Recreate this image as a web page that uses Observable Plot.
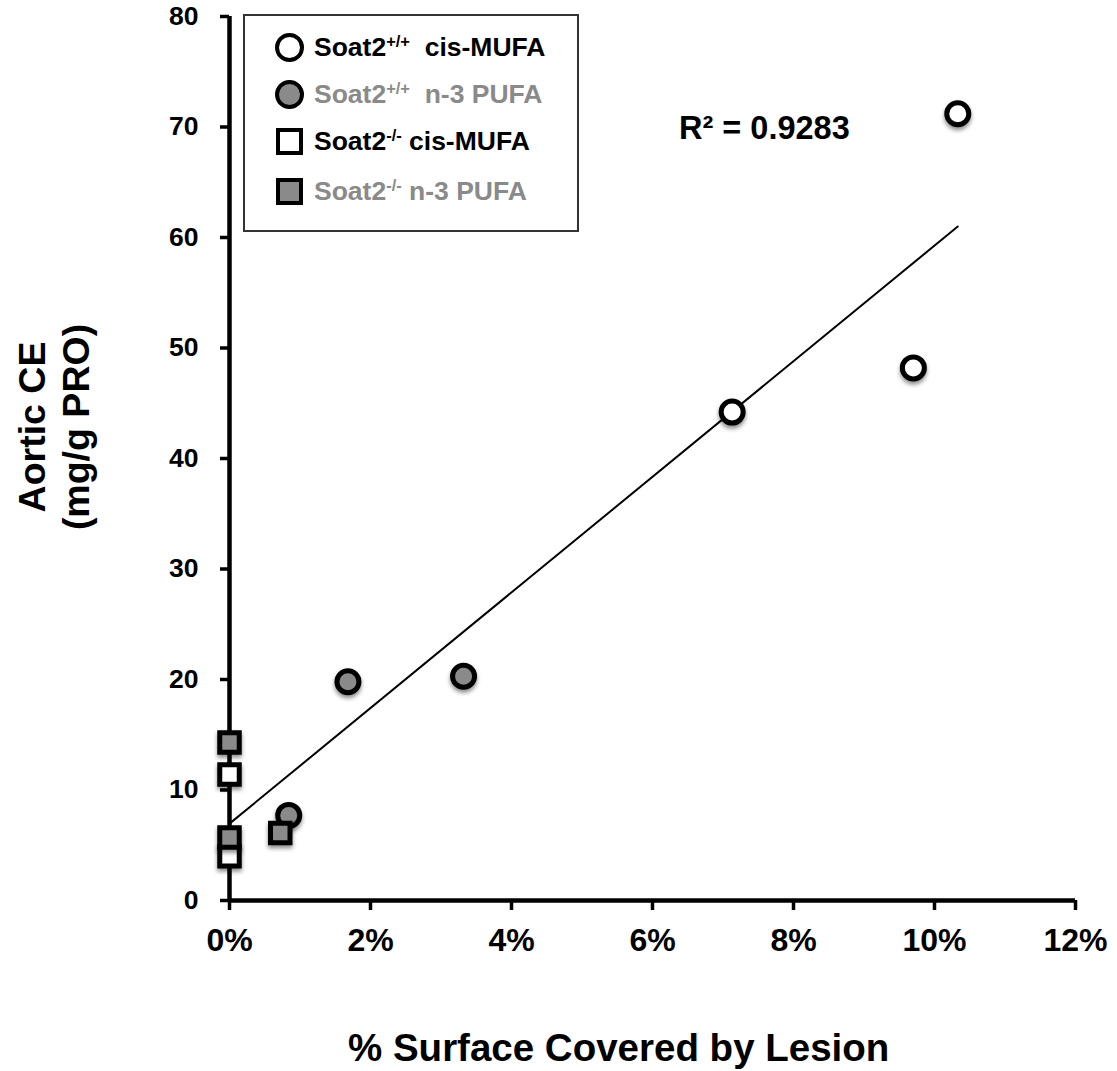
<!DOCTYPE html>
<html>
<head>
<meta charset="utf-8">
<script src="https://cdn.jsdelivr.net/npm/d3@7"></script>
<script src="https://cdn.jsdelivr.net/npm/@observablehq/plot@0.6"></script>
<style>
  html, body { margin: 0; padding: 0; background: #fff; }
  #wrap { position: relative; width: 1117px; height: 1071px; font-family: "Liberation Sans", Arial, sans-serif; font-weight: bold; }
  #wrap svg { display: block; }
  .abs { position: absolute; white-space: nowrap; }
  #legend { left: 243px; top: 14px; width: 332px; height: 214px; border: 2px solid #333; background: #fff; }
  .row { position: absolute; left: 0; height: 40px; display: flex; align-items: center; font-size: 26.5px; }
  .sym { width: 29px; height: 29px; box-sizing: border-box; border: 4px solid #000; margin-left: 30px; margin-right: 10px; }
  .circle { border-radius: 50%; }
  sup { font-size: 0.62em; vertical-align: 0.55em; line-height: 0; }
</style>
</head>
<body>
<div id="wrap"></div>
<script>
// Series values (x: % surface covered by lesion, y: aortic CE mg/g protein)
const wtMufaX = [7.13, 9.70, 10.33];
const wtMufaY = [44.2, 48.2, 71.2];
const wtPufaX = [1.68, 3.32, 0.84];
const wtPufaY = [19.8, 20.3, 7.7];
const koMufaX = [0, 0];
const koMufaY = [11.4, 4.0];
const koPufaX = [0, 0, 0.72];
const koPufaY = [14.3, 5.7, 6.1];

const seriesNames = ["Soat2+/+ cis-MUFA", "Soat2+/+ n-3 PUFA", "Soat2-/- cis-MUFA", "Soat2-/- n-3 PUFA"];
const xTicks = [0, 2, 4, 6, 8, 10, 12];
const yTicks = [0, 10, 20, 30, 40, 50, 60, 70, 80];
const r2Label = "R² = 0.9283";
const xTitle = "% Surface Covered by Lesion";
const yTitle1 = "Aortic CE";
const yTitle2 = "(mg/g PRO)";

const toRows = (xs, ys, s) => xs.map((x, i) => ({x, y: ys[i], series: s}));
const wtMufa = toRows(wtMufaX, wtMufaY, seriesNames[0]);
const wtPufa = toRows(wtPufaX, wtPufaY, seriesNames[1]);
const koMufa = toRows(koMufaX, koMufaY, seriesNames[2]);
const koPufa = toRows(koPufaX, koPufaY, seriesNames[3]);
const all = [...wtMufa, ...wtPufa, ...koMufa, ...koPufa];

const gray = "#8a8a8a";

const chart = Plot.plot({
  width: 1117,
  height: 1071,
  marginLeft: 229,
  marginRight: 42,
  marginTop: 16,
  marginBottom: 171,
  style: {fontFamily: "'Liberation Sans', Arial, sans-serif", fontWeight: "bold", color: "#000", background: "#fff", overflow: "visible"},
  x: {domain: [0, 12]},
  y: {domain: [0, 80]},
  marks: [
    Plot.axisX({ticks: xTicks, tickFormat: d => d + "%", tickSize: 10, tickPadding: 18, strokeWidth: 3.5, fontSize: 32, label: null}),
    Plot.axisY({ticks: yTicks, tickSize: 9, tickPadding: 22, strokeWidth: 3.5, fontSize: 26.5, label: null}),
    Plot.ruleX([0], {y1: 0, y2: 80, strokeWidth: 4.5, stroke: "#000"}),
    Plot.ruleY([0], {x1: 0, x2: 12, strokeWidth: 4.5, stroke: "#000"}),
    Plot.linearRegressionY(all, {x: "x", y: "y", ci: 0, stroke: "#000", strokeWidth: 2}),
    Plot.dot(wtPufa, {x: "x", y: "y", r: 11, symbol: "circle", fill: gray, stroke: "#000", strokeWidth: 5}),
    Plot.dot(wtMufa, {x: "x", y: "y", r: 11, symbol: "circle", fill: "#fff", stroke: "#000", strokeWidth: 5}),
    Plot.dot(koMufa, {x: "x", y: "y", r: 11, symbol: "square", fill: "#fff", stroke: "#000", strokeWidth: 5}),
    Plot.dot(koPufa, {x: "x", y: "y", r: 11, symbol: "square", fill: gray, stroke: "#000", strokeWidth: 5})
  ]
});
chart.querySelectorAll('g[aria-label="dot"]').forEach(g => {
  g.style.filter = "drop-shadow(0px 3px 2px rgba(0,0,0,0.45))";
});

const wrap = document.getElementById("wrap");
wrap.appendChild(chart);

// Legend
const legend = document.createElement("div");
legend.id = "legend";
legend.className = "abs";
const legendItems = [
  {shape: "circle", fill: "#fff", color: "#000", html: "Soat2<sup>+/+</sup>&nbsp; cis-MUFA"},
  {shape: "circle", fill: gray, color: gray, html: "Soat2<sup>+/+</sup>&nbsp; n-3 PUFA"},
  {shape: "square", fill: "#fff", color: "#000", html: "Soat2<sup>-/-</sup> cis-MUFA"},
  {shape: "square", fill: gray, color: gray, html: "Soat2<sup>-/-</sup> n-3 PUFA"}
];
const rowTops = [11, 58, 105, 155];
legendItems.forEach((it, i) => {
  const row = document.createElement("div");
  row.className = "row";
  row.style.top = rowTops[i] + "px";
  row.style.color = it.color;
  const sym = document.createElement("div");
  sym.className = "sym" + (it.shape === "circle" ? " circle" : "");
  sym.style.background = it.fill;
  if (it.shape === "square") { sym.style.width = "27px"; sym.style.height = "27px"; sym.style.marginLeft = "31px"; sym.style.marginRight = "11px"; }
  row.appendChild(sym);
  const t = document.createElement("span");
  t.innerHTML = it.html;
  row.appendChild(t);
  legend.appendChild(row);
});
wrap.appendChild(legend);

// R² annotation
const r2 = document.createElement("div");
r2.className = "abs";
r2.style.left = "679px";
r2.style.top = "110px";
r2.style.fontSize = "32.5px";
r2.textContent = r2Label;
wrap.appendChild(r2);

// Axis titles
const xt = document.createElement("div");
xt.className = "abs";
xt.style.left = "348px";
xt.style.top = "1026px";
xt.style.fontSize = "38.5px";
xt.textContent = xTitle;
wrap.appendChild(xt);

const yt = document.createElement("div");
yt.className = "abs";
yt.style.left = "54px";
yt.style.top = "427px";
yt.style.transform = "translate(-50%, -50%) rotate(-90deg)";
yt.style.textAlign = "center";
yt.style.fontSize = "37.5px";
yt.style.lineHeight = "44px";
yt.innerHTML = yTitle1 + "<br>" + yTitle2;
wrap.appendChild(yt);
</script>
</body>
</html>
